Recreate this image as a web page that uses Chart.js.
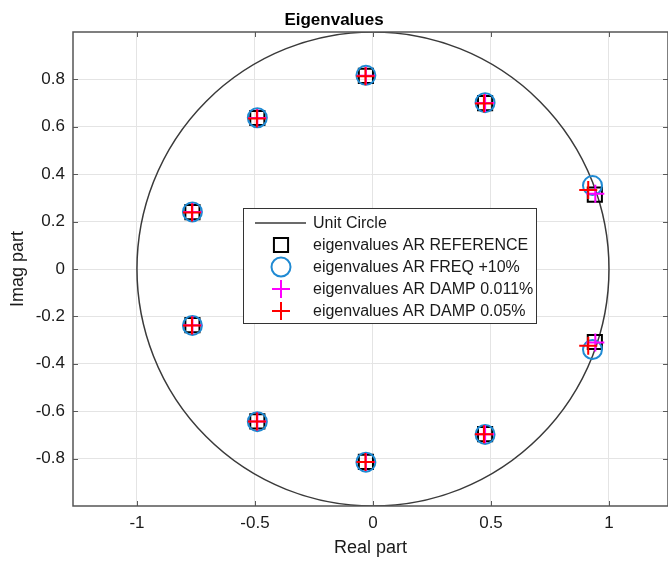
<!doctype html>
<html>

<head>
	<title>Eigenvalues</title>
	<script src="https://cdn.jsdelivr.net/npm/chart.js@4/dist/chart.umd.min.js"></script>
	<style>
		body {
			margin: 0;
			background: #fff;
		}
		canvas {
			display: block;
		}
	</style>
</head>

<body>
	<canvas id="chart" width="668" height="562"></canvas>
	<script>
		// tick positions
		var xTicks = [-1, -0.5, 0, 0.5, 1];
		var yTicks = [-0.8, -0.6, -0.4, -0.2, 0, 0.2, 0.4, 0.6, 0.8];

		// eigenvalues (real / imag parts)
		var refReal = [-0.03, 0.475, -0.49, -0.765, -0.765, -0.49, -0.03, 0.475, 0.94, 0.94];
		var refImag = [0.815, 0.70, 0.637, 0.24, -0.237, -0.643, -0.814, -0.697, 0.314, -0.308];

		var freqReal = [-0.03, 0.475, -0.49, -0.765, -0.765, -0.49, -0.03, 0.475, 0.93, 0.93];
		var freqImag = [0.817, 0.702, 0.638, 0.241, -0.238, -0.644, -0.815, -0.698, 0.352, -0.340];

		var damp1Real = [-0.03, 0.475, -0.49, -0.765, -0.765, -0.49, -0.03, 0.475, 0.942, 0.942];
		var damp1Imag = [0.815, 0.70, 0.637, 0.24, -0.237, -0.643, -0.814, -0.697, 0.318, -0.31];

		var damp2Real = [-0.032, 0.47, -0.492, -0.767, -0.767, -0.492, -0.032, 0.47, 0.912, 0.912];
		var damp2Imag = [0.813, 0.698, 0.635, 0.238, -0.238, -0.643, -0.814, -0.697, 0.333, -0.324];

		function pts(re, im) {
			return re.map(function(v, i) {
				return {x: v, y: im[i]};
			});
		}

		var unitCirclePlugin = {
			id: 'unitCircle',
			beforeDatasetsDraw: function(chart) {
				var ctx = chart.ctx;
				var xs = chart.scales.x;
				var ys = chart.scales.y;
				var a = chart.chartArea;
				var cx = xs.getPixelForValue(0);
				var cy = ys.getPixelForValue(0);
				var rx = xs.getPixelForValue(1) - cx;
				var ry = cy - ys.getPixelForValue(1);
				ctx.save();
				ctx.beginPath();
				ctx.rect(a.left, a.top, a.right - a.left, a.bottom - a.top);
				ctx.clip();
				ctx.beginPath();
				ctx.ellipse(cx, cy, rx, ry, 0, 0, Math.PI * 2);
				ctx.strokeStyle = '#3a3a3a';
				ctx.lineWidth = 1.5;
				ctx.stroke();
				ctx.restore();
			}
		};

		// matlab style box with inward ticks
		var boxPlugin = {
			id: 'box',
			afterDatasetsDraw: function(chart) {
				var ctx = chart.ctx;
				var a = chart.chartArea;
				var xs = chart.scales.x;
				var ys = chart.scales.y;
				var len = 5;
				ctx.save();
				ctx.strokeStyle = '#5a5a5a';
				ctx.lineWidth = 1;
				ctx.beginPath();
				xTicks.forEach(function(v) {
					var px = Math.round(xs.getPixelForValue(v)) + 0.5;
					ctx.moveTo(px, a.bottom);
					ctx.lineTo(px, a.bottom - len);
					ctx.moveTo(px, a.top);
					ctx.lineTo(px, a.top + len);
				});
				yTicks.forEach(function(v) {
					var py = Math.round(ys.getPixelForValue(v)) + 0.5;
					ctx.moveTo(a.left, py);
					ctx.lineTo(a.left + len, py);
					ctx.moveTo(a.right, py);
					ctx.lineTo(a.right - len, py);
				});
				ctx.stroke();
				ctx.lineWidth = 1.5;
				ctx.strokeStyle = '#555';
				ctx.strokeRect(a.left, a.top, a.right - a.left, a.bottom - a.top);
				ctx.restore();
			}
		};

		function drawMarker(ctx, style, x, y, r) {
			ctx.beginPath();
			if (style === 'rect') {
				var h = r * Math.SQRT1_2;
				ctx.rect(x - h, y - h, 2 * h, 2 * h);
			} else if (style === 'circle') {
				ctx.arc(x, y, r, 0, Math.PI * 2);
			} else if (style === 'cross') {
				ctx.moveTo(x - r, y);
				ctx.lineTo(x + r, y);
				ctx.moveTo(x, y - r);
				ctx.lineTo(x, y + r);
			}
			ctx.stroke();
		}

		var legendPlugin = {
			id: 'boxLegend',
			afterDraw: function(chart) {
				var ctx = chart.ctx;
				var left = 243, top = 208, width = 293, rowH = 22;
				var sets = chart.data.datasets;
				var height = sets.length * rowH + 5;
				ctx.save();
				ctx.fillStyle = '#fff';
				ctx.fillRect(left, top, width, height);
				ctx.strokeStyle = '#333';
				ctx.lineWidth = 1;
				ctx.strokeRect(left + 0.5, top + 0.5, width, height);
				ctx.font = '16px "Liberation Sans", Arial, sans-serif';
				ctx.textBaseline = 'middle';
				sets.forEach(function(ds, i) {
					var y = top + 15 + i * rowH;
					ctx.strokeStyle = ds.borderColor;
					ctx.lineWidth = ds.pointBorderWidth || 1.5;
					if (ds.type === 'line') {
						ctx.beginPath();
						ctx.moveTo(left + 12, y);
						ctx.lineTo(left + 63, y);
						ctx.stroke();
					} else {
						drawMarker(ctx, ds.pointStyle, left + 38, y, ds.pointRadius);
					}
					ctx.fillStyle = '#1a1a1a';
					ctx.fillText(ds.label, left + 70, y + 1);
				});
				ctx.restore();
			}
		};

		window.onload = function() {
			var ctx = document.getElementById('chart').getContext('2d');
			var font = '"Liberation Sans", Arial, Helvetica, sans-serif';
			new Chart(ctx, {
				type: 'scatter',
				data: {
					datasets: [{
						type: 'line',
						label: 'Unit Circle',
						data: [],
						borderColor: '#3a3a3a',
						pointBorderWidth: 1.5
					}, {
						label: 'eigenvalues AR REFERENCE',
						data: pts(refReal, refImag),
						pointStyle: 'rect',
						pointRadius: 10,
						pointBorderWidth: 2,
						borderColor: '#000',
						backgroundColor: 'rgba(0,0,0,0)',
						order: 4
					}, {
						label: 'eigenvalues AR FREQ +10%',
						data: pts(freqReal, freqImag),
						pointStyle: 'circle',
						pointRadius: 9.5,
						pointBorderWidth: 2,
						borderColor: '#1f8ad3',
						backgroundColor: 'rgba(0,0,0,0)',
						order: 3
					}, {
						label: 'eigenvalues AR DAMP 0.011%',
						data: pts(damp1Real, damp1Imag),
						pointStyle: 'cross',
						pointRadius: 9,
						pointBorderWidth: 2,
						borderColor: '#ff00ff',
						backgroundColor: '#ff00ff',
						order: 2
					}, {
						label: 'eigenvalues AR DAMP 0.05%',
						data: pts(damp2Real, damp2Imag),
						pointStyle: 'cross',
						pointRadius: 9,
						pointBorderWidth: 2,
						borderColor: '#ff0000',
						backgroundColor: '#ff0000',
						order: 1
					}]
				},
				options: {
					responsive: false,
					animation: false,
					layout: {
						autoPadding: false,
						padding: {left: 0, right: 0, top: 0, bottom: 0}
					},
					plugins: {
						legend: {display: false},
						tooltip: {enabled: false},
						title: {
							display: true,
							text: 'Eigenvalues',
							color: '#000',
							font: {family: font, size: 17, weight: 'bold', lineHeight: 1.2},
							padding: {top: 10, bottom: 1.6}
						}
					},
					scales: {
						x: {
							type: 'linear',
							min: -1.271,
							max: 1.25,
							afterBuildTicks: function(scale) {
								scale.ticks = xTicks.map(function(v) { return {value: v}; });
							},
							afterFit: function(scale) {
								scale.height = 56;
								scale.paddingLeft = 0;
								scale.paddingRight = 0;
							},
							grid: {color: '#e4e4e4', drawTicks: false},
							border: {display: false},
							ticks: {
								color: '#1a1a1a',
								padding: 7,
								maxRotation: 0,
								font: {family: font, size: 17},
								callback: function(v) { return String(v); }
							},
							title: {
								display: true,
								text: 'Real part',
								color: '#1a1a1a',
								font: {family: font, size: 18},
								padding: {top: 0, bottom: 3}
							}
						},
						y: {
							type: 'linear',
							min: -1,
							max: 1,
							afterBuildTicks: function(scale) {
								scale.ticks = yTicks.map(function(v) { return {value: v}; });
							},
							afterFit: function(scale) {
								scale.width = 73;
								scale.paddingTop = 0;
								scale.paddingBottom = 0;
							},
							grid: {color: '#e4e4e4', drawTicks: false},
							border: {display: false},
							ticks: {
								color: '#1a1a1a',
								padding: 8,
								font: {family: font, size: 17},
								callback: function(v) { return String(v); }
							},
							title: {
								display: true,
								text: 'Imag part',
								color: '#1a1a1a',
								font: {family: font, size: 18},
								padding: {top: 7, bottom: 0}
							}
						}
					}
				},
				plugins: [unitCirclePlugin, boxPlugin, legendPlugin]
			});
		};
	</script>
</body>

</html>
